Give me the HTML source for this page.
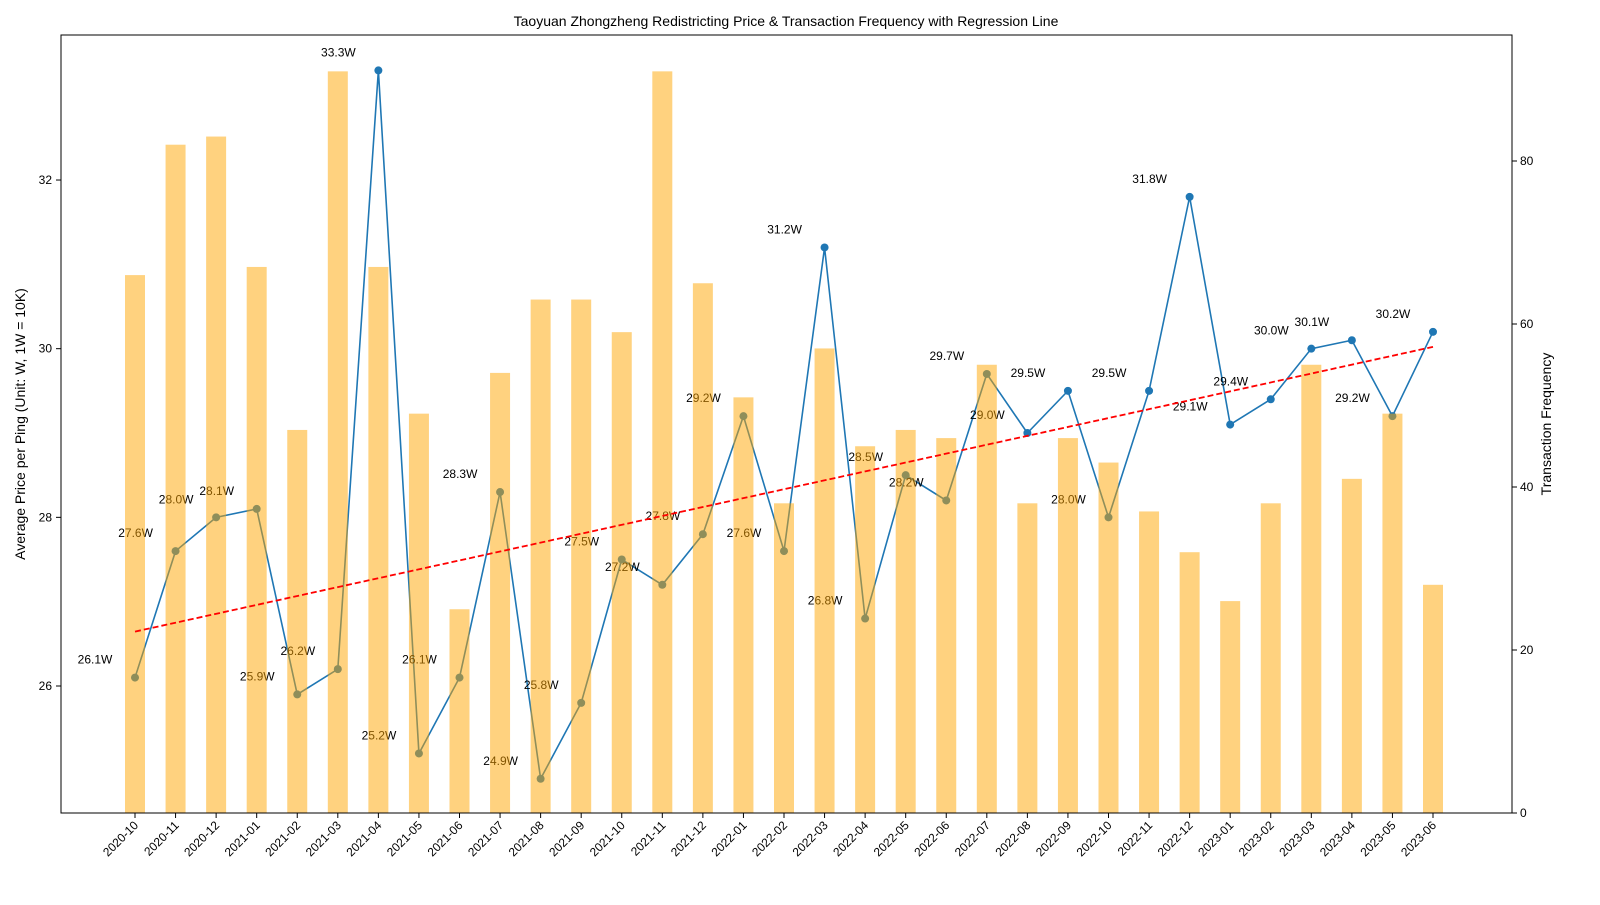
<!DOCTYPE html>
<html><head><meta charset="utf-8"><style>
body{margin:0;background:#fff;font-family:"Liberation Sans",Arial,sans-serif}
svg text{font-family:"Liberation Sans",Arial,sans-serif}
</style></head><body>
<svg id="chart" width="1600" height="900" viewBox="0 0 1600 900" xmlns="http://www.w3.org/2000/svg">
<rect width="1600" height="900" fill="#fff"/>
<text x="786" y="26" font-size="14" text-anchor="middle">Taoyuan Zhongzheng Redistricting Price &amp; Transaction Frequency with Regression Line</text>
<text transform="translate(25,424) rotate(-90)" font-size="14" text-anchor="middle">Average Price per Ping (Unit: W, 1W = 10K)</text>
<text transform="translate(1551,424) rotate(-90)" font-size="14" text-anchor="middle">Transaction Frequency</text>
<g id="g"></g>
<rect x="61" y="35" width="1451" height="778" fill="none" stroke="#000" stroke-width="1"/>
</svg>
<script>
const categories=["2020-10","2020-11","2020-12","2021-01","2021-02","2021-03","2021-04","2021-05","2021-06","2021-07","2021-08","2021-09","2021-10","2021-11","2021-12","2022-01","2022-02","2022-03","2022-04","2022-05","2022-06","2022-07","2022-08","2022-09","2022-10","2022-11","2022-12","2023-01","2023-02","2023-03","2023-04","2023-05","2023-06"];
const prices=[26.1,27.6,28.0,28.1,25.9,26.2,33.3,25.2,26.1,28.3,24.9,25.8,27.5,27.2,27.8,29.2,27.6,31.2,26.8,28.5,28.2,29.7,29.0,29.5,28.0,29.5,31.8,29.1,29.4,30.0,30.1,29.2,30.2];
const counts=[66,82,83,67,47,91,67,49,25,54,63,63,59,91,65,51,38,57,45,47,46,55,38,46,43,37,32,26,38,55,41,49,28];
const leftTicks=[26,28,30,32];
const rightTicks=[0,20,40,60,80];
const NS="http://www.w3.org/2000/svg";
const g=document.getElementById('g');
const X=i=>135+i*(1433-135)/32;
const Y=v=>686-(v-26)*84.33;
const Y2=v=>813-v*8.15;
function mk(t,a){const e=document.createElementNS(NS,t);for(const k in a)e.setAttribute(k,a[k]);g.appendChild(e);return e;}
// left ticks
leftTicks.forEach(v=>{const y=Y(v);
 const l=mk('line',{x1:56,x2:61,y1:y,y2:y,stroke:'#000'});
 
 
 const t=mk('text',{x:52,y:y+4,'font-size':12,'text-anchor':'end'});t.textContent=v;
 
 });
rightTicks.forEach(v=>{const y=Y2(v);
 const l=mk('line',{x1:1512,x2:1517,y1:y,y2:y,stroke:'#000'});
 
 
 const t=mk('text',{x:1520,y:y+4,'font-size':12});t.textContent=v;
 
 });
categories.forEach((c,i)=>{const x=X(i);
 const l=mk('line',{x1:x,x2:x,y1:813,y2:818,stroke:'#000'});
 
 
 const t=mk('text',{transform:`translate(${x+4},${826}) rotate(-45)`,'font-size':12,'text-anchor':'end'});t.textContent=c;
 
 });
// price line
const p=mk('polyline',{points:prices.map((v,i)=>X(i)+','+Y(v)).join(' '),fill:'none',stroke:'#1f77b4','stroke-width':1.6});


prices.forEach((v,i)=>{
 const c=mk('circle',{cx:X(i),cy:Y(v),r:4,fill:'#1f77b4'});
 
 
 const t=mk('text',{x:X(i)-40,y:Y(v)-14,'font-size':12,'text-anchor':'middle'});t.textContent=v.toFixed(1)+'W';
 
 });
// bars
counts.forEach((v,i)=>{
 const b=mk('rect',{x:X(i)-10,y:Y2(v),width:20,height:813-Y2(v),fill:'#ffa500','fill-opacity':0.5});
 
 });
// regression
const n=prices.length;let sx=0,sy=0,sxy=0,sxx=0;
prices.forEach((v,i)=>{sx+=i;sy+=v;sxy+=i*v;sxx+=i*i;});
const m=(n*sxy-sx*sy)/(n*sxx-sx*sx),b0=(sy-m*sx)/n;
const r=mk('line',{x1:X(0),y1:Y(b0),x2:X(n-1),y2:Y(b0+m*(n-1)),stroke:'#ff0000','stroke-width':1.8,'stroke-dasharray':'6,3'});


</script>
</body></html>
